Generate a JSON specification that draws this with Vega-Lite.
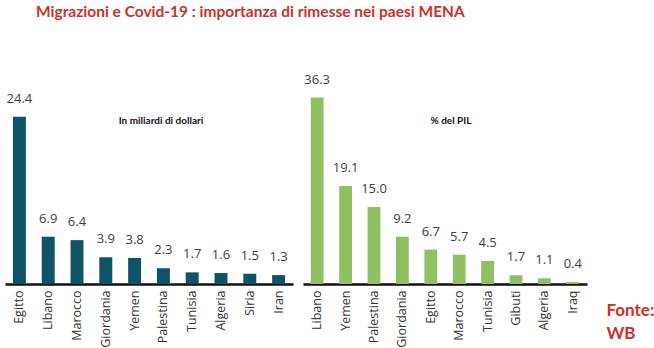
{
  "$schema": "https://vega.github.io/schema/vega-lite/v6.json",
  "padding": {"left": 5, "top": 4, "right": 0, "bottom": 0},
  "background": "white",
  "spacing": 10,
  "title": {"text": "Migrazioni e Covid-19 : importanza di rimesse nei paesi MENA", "anchor": "start", "dx": 31, "font": "Lato", "fontSize": 15.5, "fontWeight": "bold", "color": "#cc3328", "offset": 20},
  "datasets": {
    "usd": [
      {"paese": "Egitto", "valore": 24.4},
      {"paese": "Libano", "valore": 6.9},
      {"paese": "Marocco", "valore": 6.4},
      {"paese": "Giordania", "valore": 3.9},
      {"paese": "Yemen", "valore": 3.8},
      {"paese": "Palestina", "valore": 2.3},
      {"paese": "Tunisia", "valore": 1.7},
      {"paese": "Algeria", "valore": 1.6},
      {"paese": "Siria", "valore": 1.5},
      {"paese": "Iran", "valore": 1.3}
    ],
    "pil": [
      {"paese": "Libano", "valore": 36.3},
      {"paese": "Yemen", "valore": 19.1},
      {"paese": "Palestina", "valore": 15.0},
      {"paese": "Giordania", "valore": 9.2},
      {"paese": "Egitto", "valore": 6.7},
      {"paese": "Marocco", "valore": 5.7},
      {"paese": "Tunisia", "valore": 4.5},
      {"paese": "Gibuti", "valore": 1.7},
      {"paese": "Algeria", "valore": 1.1},
      {"paese": "Iraq", "valore": 0.4}
    ]
  },
  "config": {
    "view": {"stroke": null},
    "axisX": {"domainColor": "#111111", "domainWidth": 2.5, "ticks": false, "labelAngle": -90, "labelAlign": "right", "labelBaseline": "middle", "labelFont": "Open Sans", "labelFontSize": 12.5, "labelColor": "#333333", "labelPadding": 6, "title": null}
  },
  "hconcat": [
    {
      "width": 288,
      "height": 244,
      "data": {"name": "usd"},
      "title": {"text": "In miliardi di dollari", "frame": "group", "anchor": "middle", "dx": 12, "offset": -86, "font": "Lato", "fontSize": 10, "fontWeight": "bold", "color": "#111111"},
      "encoding": {
        "x": {"field": "paese", "type": "nominal", "sort": null, "scale": {"paddingInner": 0.55, "paddingOuter": 0.275}},
        "y": {"field": "valore", "type": "quantitative", "scale": {"domain": [0, 35.6], "nice": false}, "axis": null}
      },
      "layer": [
        {"mark": {"type": "bar", "color": "#0f5466"}},
        {"mark": {"type": "text", "dy": -14, "baseline": "alphabetic", "font": "Open Sans", "fontSize": 13, "color": "#404040"}, "encoding": {"text": {"field": "valore", "type": "quantitative", "format": ".1f"}}}
      ]
    },
    {
      "width": 284,
      "height": 244,
      "data": {"name": "pil"},
      "title": {"text": "% del PIL", "frame": "group", "anchor": "middle", "dx": 6, "offset": -86, "font": "Lato", "fontSize": 10, "fontWeight": "bold", "color": "#111111"},
      "encoding": {
        "x": {"field": "paese", "type": "nominal", "sort": null, "scale": {"paddingInner": 0.55, "paddingOuter": 0.275}},
        "y": {"field": "valore", "type": "quantitative", "scale": {"domain": [0, 47.5], "nice": false}, "axis": {"orient": "right", "labels": false, "ticks": false, "domain": false, "grid": false, "title": ["Fonte:", "WB"], "titleAngle": 0, "titleAlign": "left", "titleBaseline": "top", "titleX": 19, "titleY": 262, "titleFont": "Lato", "titleFontSize": 17, "titleFontWeight": "bold", "titleColor": "#cc3328", "titleLineHeight": 23}}
      },
      "layer": [
        {"mark": {"type": "bar", "color": "#8fc062"}},
        {"mark": {"type": "text", "dy": -14, "baseline": "alphabetic", "font": "Open Sans", "fontSize": 13, "color": "#404040"}, "encoding": {"text": {"field": "valore", "type": "quantitative", "format": ".1f"}}}
      ]
    }
  ]
}
